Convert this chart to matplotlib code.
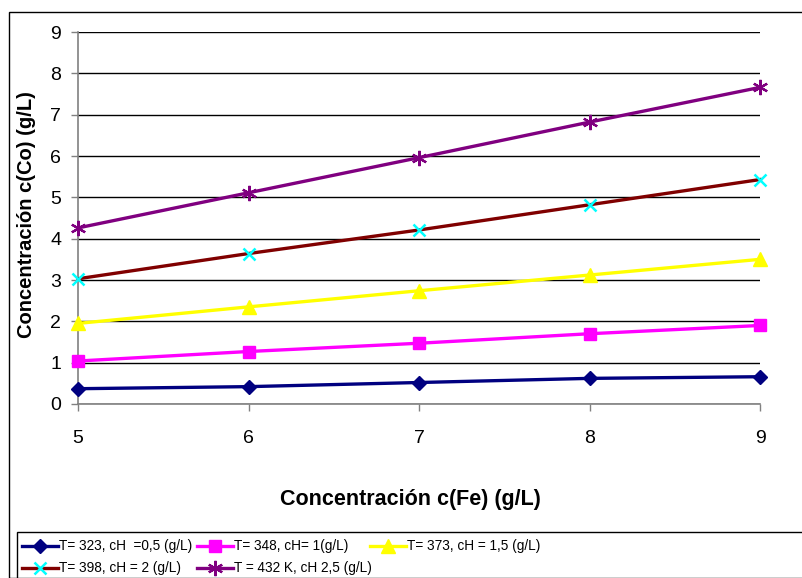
import matplotlib.pyplot as plt
from matplotlib.lines import Line2D
from matplotlib.patches import Rectangle

plt.rcParams['font.family'] = ['Liberation Sans', 'DejaVu Sans']

# Fe concentration (g/L)
c_fe = [5, 6, 7, 8, 9]

# Co concentration (g/L) for each condition
co_323 = [0.37, 0.42, 0.52, 0.62, 0.66]
co_348 = [1.04, 1.27, 1.47, 1.70, 1.90]
co_373 = [1.95, 2.35, 2.74, 3.12, 3.50]
co_398 = [3.03, 3.64, 4.21, 4.82, 5.43]
co_432 = [4.26, 5.11, 5.96, 6.82, 7.66]

labels = ["T= 323, cH  =0,5 (g/L)",
          "T= 348, cH= 1(g/L)",
          "T= 373, cH = 1,5 (g/L)",
          "T= 398, cH = 2 (g/L)",
          "T = 432 K, cH 2,5 (g/L)"]

y_ticks = [0, 1, 2, 3, 4, 5, 6, 7, 8, 9]

W, H = 802, 578
fig = plt.figure(figsize=(W / 100, H / 100), dpi=100)

# outer chart frame and legend frame
fig.add_artist(Rectangle((9 / W, 0), 1.2, 1 - 12 / H, transform=fig.transFigure,
                         fill=False, ec='black', lw=1.0))
fig.add_artist(Rectangle((17 / W, -0.1), 1.2, 0.1 + 1 - 532 / H, transform=fig.transFigure,
                         fill=False, ec='black', lw=1.0))

ax = fig.add_axes([78 / W, 1 - 404 / H, (760 - 78) / W, (404 - 32) / H])

series = [
    dict(y=co_323, color='#000080', marker='D', mfc='#000080', mec='#000080', ms=7, mew=1),
    dict(y=co_348, color='#FF00FF', marker='s', mfc='#FF00FF', mec='#FF00FF', ms=8, mew=1),
    dict(y=co_373, color='#FFFF00', marker='^', mfc='#FFFF00', mec='#FFFF00', ms=10, mew=1),
    dict(y=co_398, color='#800000', marker='x', mfc='#00FFFF', mec='#00FFFF', ms=9, mew=1.8),
    dict(y=co_432, color='#800080', marker=(6, 2, 0), mfc='#800080', mec='#800080', ms=11, mew=1.6),
]

for s in series:
    ax.plot(c_fe, s['y'], color=s['color'], lw=2.4, marker=s['marker'],
            mfc=s['mfc'], mec=s['mec'], ms=s['ms'], mew=s['mew'],
            clip_on=False, zorder=3)

ax.set_xlim(5, 9)
ax.set_ylim(0, 9)
ax.set_xticks(c_fe)
ax.set_yticks(y_ticks)
ax.grid(axis='y', color='black', lw=1.0)
ax.set_axisbelow(True)
for side in ['top', 'right']:
    ax.spines[side].set_visible(False)
ax.spines['left'].set_color('#808080')
ax.spines['bottom'].set_color('#808080')
ax.spines['left'].set_linewidth(1.2)
ax.spines['bottom'].set_linewidth(1.2)
ax.tick_params(axis='both', colors='#808080', labelcolor='black', labelsize=14,
               length=5, width=1.0, direction='out')
ax.tick_params(axis='x', pad=14)
ax.tick_params(axis='y', pad=7)

fig.text(410 / W, 1 - 500 / H, "Concentración c(Fe) (g/L)", ha='center', va='center',
         fontsize=15.5, fontweight='bold')
fig.text(27 / W, 1 - 215 / H, "Concentración c(Co) (g/L)", ha='center', va='center',
         rotation=90, fontsize=14.5, fontweight='bold')

# legend entries laid out in two rows
leg_pos = [(22, 546), (197, 546), (370, 546), (22, 568), (197, 568)]
for s, lab, (px, py) in zip(series, labels, leg_pos):
    yy = 1 - py / H
    fig.add_artist(Line2D([px / W, (px + 36) / W], [yy, yy], transform=fig.transFigure,
                          color=s['color'], lw=2.4))
    fig.add_artist(Line2D([(px + 18) / W], [yy], transform=fig.transFigure,
                          marker=s['marker'], mfc=s['mfc'], mec=s['mec'],
                          ms=s['ms'], mew=s['mew'], lw=0))
    fig.text((px + 37) / W, yy, lab, ha='left', va='center', fontsize=9.8)

fig.savefig("out.png", dpi=100)
